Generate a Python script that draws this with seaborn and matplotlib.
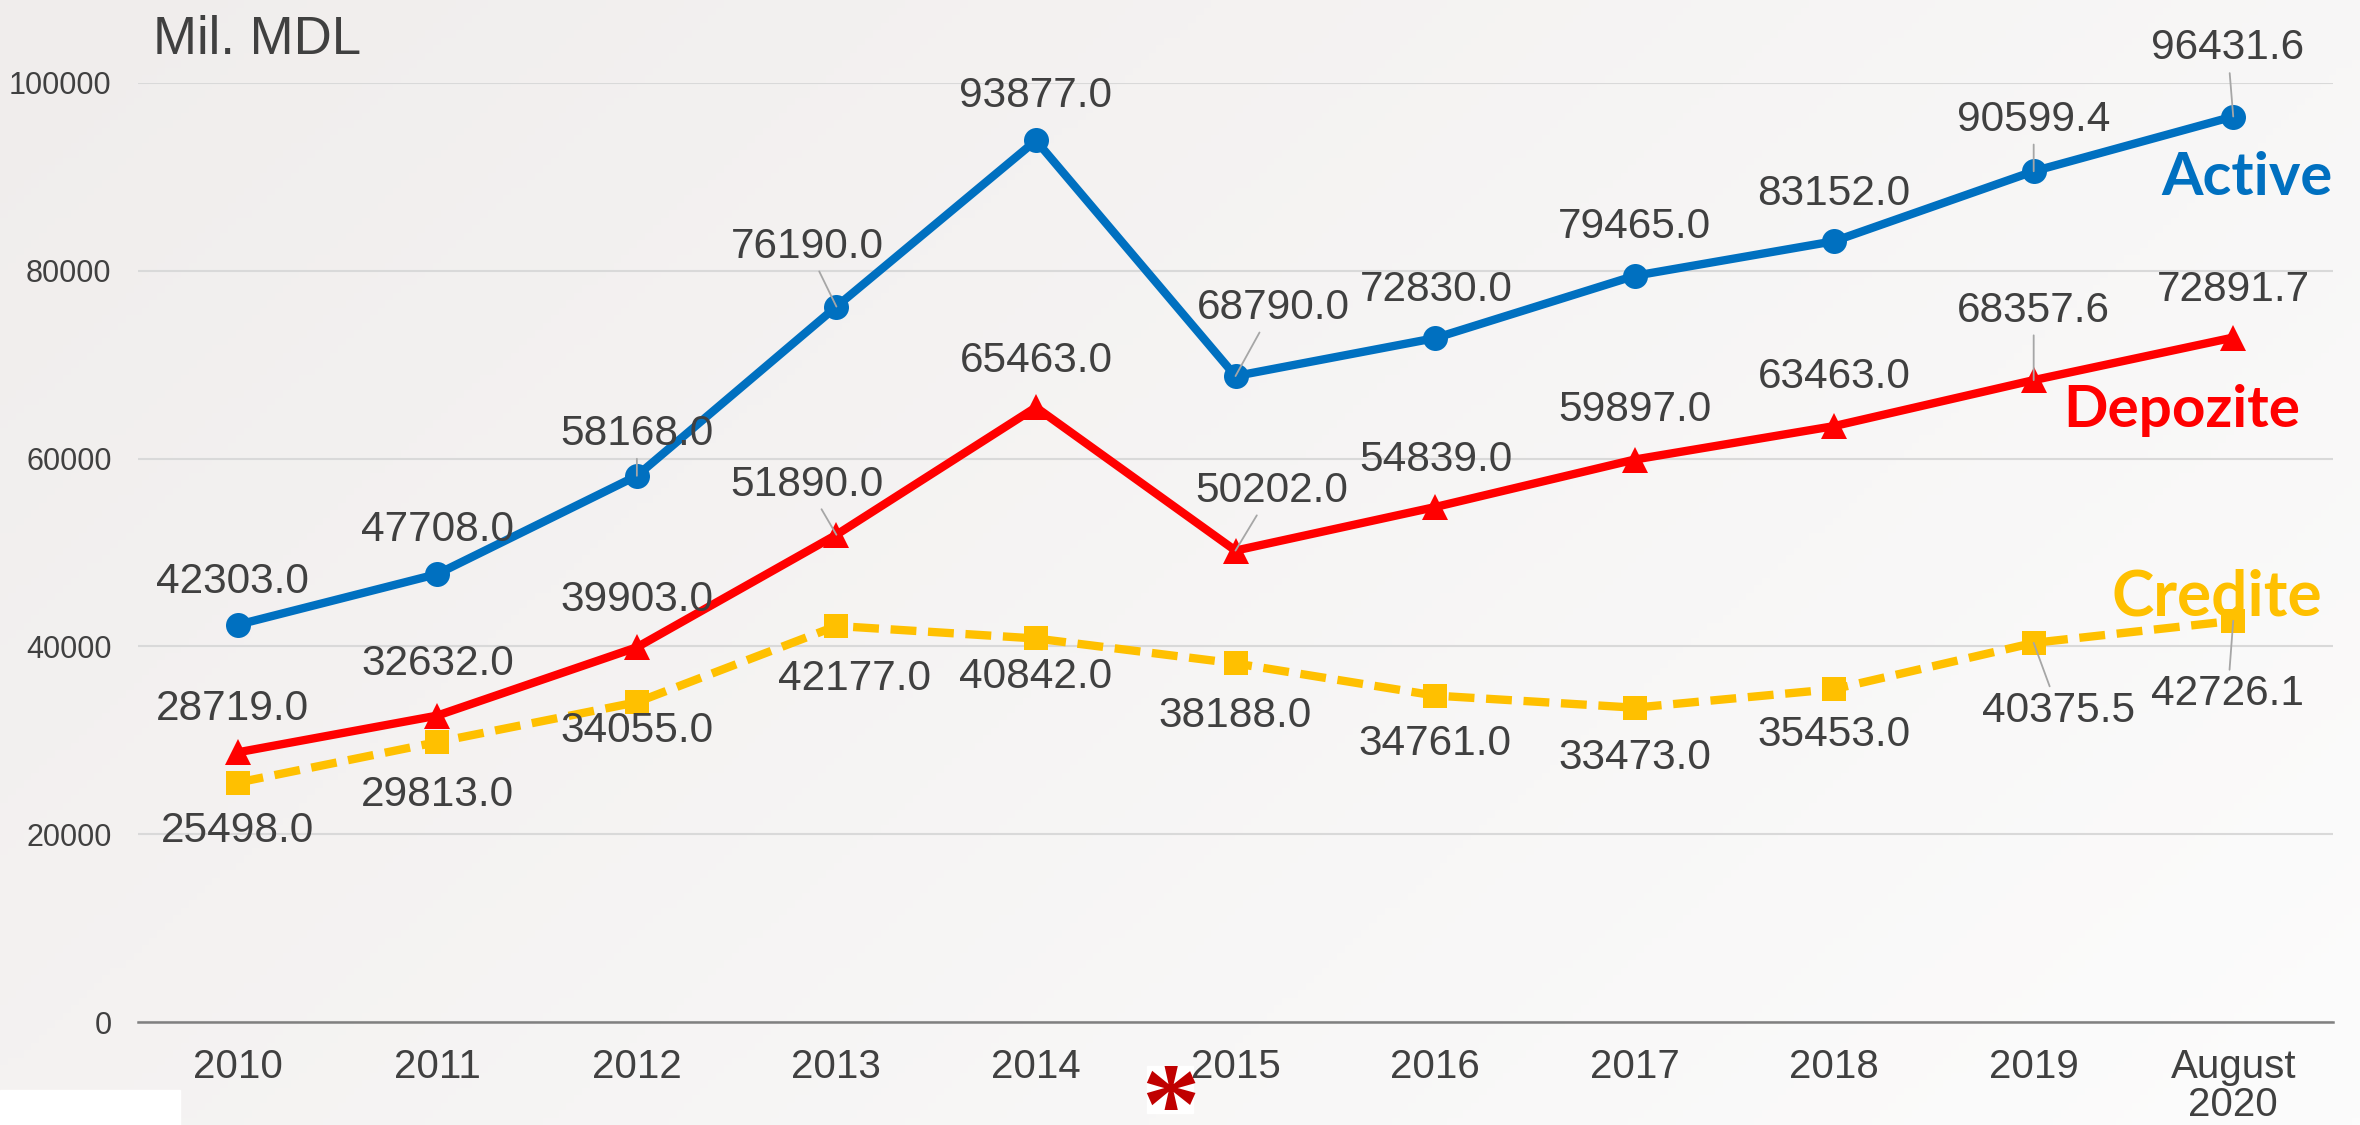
import numpy as np
import pandas as pd
import matplotlib
matplotlib.use("Agg")
import matplotlib.pyplot as plt
import seaborn as sns

# chart data (Mil. MDL)
years = ["2010", "2011", "2012", "2013", "2014", "2015", "2016", "2017", "2018", "2019", "August\n2020"]
active = [42303.0, 47708.0, 58168.0, 76190.0, 93877.0, 68790.0, 72830.0, 79465.0, 83152.0, 90599.4, 96431.6]
depozite = [28719.0, 32632.0, 39903.0, 51890.0, 65463.0, 50202.0, 54839.0, 59897.0, 63463.0, 68357.6, 72891.7]
credite = [25498.0, 29813.0, 34055.0, 42177.0, 40842.0, 38188.0, 34761.0, 33473.0, 35453.0, 40375.5, 42726.1]

# label offsets in points (dx, dy) and which labels get a leader line
off_active = [(-4, 31), (0, 32), (0, 30), (-21, 43), (0, 32), (27, 49), (1, 35), (0, 35), (0, 34), (0, 37), (-4, 49)]
off_depo = [(-4, 31), (0, 37), (0, 34), (-21, 36), (0, 33), (26, 43), (1, 34), (0, 36), (0, 35), (0, 50), (0, 34)]
off_cred = [(0, -35), (0, -38), (0, -21), (13, -38), (0, -28), (0, -38), (0, -35), (0, -36), (0, -33), (18, -49), (-4, -53)]
lead_active = [2, 3, 5, 9, 10]
lead_depo = [3, 5, 9]
lead_cred = [9, 10]

BLUE, RED, YELLOW = "#0070C0", "#FF0000", "#FFC000"
GRAY_TXT = "#404040"

sns.set_theme(style="white")
plt.rcParams["font.family"] = ["Liberation Sans", "DejaVu Sans"]

df = pd.DataFrame({"pos": np.arange(len(years)), "Active": active,
                   "Depozite": depozite, "Credite": credite})

fig = plt.figure(figsize=(23.6, 11.25), dpi=100)

# soft gradient background
bg = fig.add_axes([0, 0, 1, 1], zorder=-10)
gx = np.linspace(0, 1, 300)
gy = np.linspace(0, 1, 150)
GX, GY = np.meshgrid(gx, gy)
t = np.clip(0.65 * GX + 0.35 * (1 - GY), 0, 1)
c0 = np.array([240, 237, 236]) / 255
c1 = np.array([252, 252, 252]) / 255
img = c0[None, None, :] * (1 - t[..., None]) + c1[None, None, :] * t[..., None]
bg.imshow(img, aspect="auto", extent=[0, 1, 0, 1], origin="lower")
bg.set_xlim(0, 1)
bg.set_ylim(0, 1)
bg.axis("off")
bg.add_patch(plt.Rectangle((0, 0), 180 / 2360, 35 / 1125, color="white", transform=bg.transAxes))
# white box behind the footnote asterisk
bg.add_patch(plt.Rectangle((1147 / 2360, 1 - 1113 / 1125), 46 / 2360, 47 / 1125,
                           color="white", transform=bg.transAxes))

ax = fig.add_axes([138 / 2360, 1 - 1022 / 1125, 2195 / 2360, 939 / 1125])
ax.set_facecolor("none")

sns.lineplot(data=df, x="pos", y="Active", ax=ax, color=BLUE, lw=6,
             marker="o", markersize=18, markeredgewidth=0, zorder=3)
sns.lineplot(data=df, x="pos", y="Depozite", ax=ax, color=RED, lw=6,
             marker="^", markersize=19, markeredgewidth=0, zorder=3)
sns.lineplot(data=df, x="pos", y="Credite", ax=ax, color=YELLOW, lw=6,
             marker="s", markersize=17, markeredgewidth=0, zorder=3, dashes=(3.1, 1.4))

ax.set_xlim(-0.5, len(years) - 0.5)
ax.set_ylim(0, 100000)
ax.set_yticks(range(0, 100001, 20000))
ax.set_yticklabels([str(v) for v in range(0, 100001, 20000)], fontsize=22, color=GRAY_TXT)
ax.tick_params(axis="y", length=0, pad=19)
ax.grid(axis="y", color="#d9d9d9", lw=1.5)
ax.set_axisbelow(True)

ax.set_xticks(np.arange(len(years)))
ax.set_xticklabels(years, fontsize=29, color=GRAY_TXT, linespacing=1.0)
ax.tick_params(axis="x", length=0, pad=19)
ax.set_xticks(np.arange(-0.5, len(years)), minor=True)
ax.tick_params(axis="x", which="minor", length=10, width=1.5, color="#808080")
ax.set_xlabel("")
ax.set_ylabel("")
for s in ["top", "right", "left"]:
    ax.spines[s].set_visible(False)
ax.spines["bottom"].set_color("#808080")
ax.spines["bottom"].set_linewidth(1.8)


def label_series(values, offsets, leaders):
    for i, v in enumerate(values):
        dx, dy = offsets[i]
        ap = None
        if i in leaders:
            ap = dict(arrowstyle="-", color="#a6a6a6", lw=1.3, shrinkA=1, shrinkB=0)
        ax.annotate(f"{v:.1f}", (i, v), xytext=(dx, dy), textcoords="offset points",
                    ha="center", va="center", fontsize=30.5, color=GRAY_TXT,
                    arrowprops=ap, annotation_clip=False, zorder=5)


label_series(active, off_active, lead_active)
label_series(depozite, off_depo, lead_depo)
label_series(credite, off_cred, lead_cred)

# series names
ax.text(1.0, 0.8807, "Active", transform=ax.transAxes, ha="right", va="baseline",
        fontsize=43, fontweight="bold", color=BLUE, family=["Lato", "DejaVu Sans"])
ax.text(0.985, 0.6337, "Depozite", transform=ax.transAxes, ha="right", va="baseline",
        fontsize=42, fontweight="bold", color=RED, family=["Lato", "DejaVu Sans"])
ax.text(0.995, 0.4334, "Credite", transform=ax.transAxes, ha="right", va="baseline",
        fontsize=46, fontweight="bold", color=YELLOW, family=["Lato", "DejaVu Sans"], zorder=2)

fig.text(153 / 2360, 1 - 54 / 1125, "Mil. MDL", fontsize=38, color=GRAY_TXT, va="baseline")

# footnote asterisk
fig.text(1170 / 2360, 1 - 1115 / 1125, "*", fontsize=84, fontweight="bold", color="#C00000",
         ha="center", va="center", family=["Liberation Serif", "DejaVu Sans"])

fig.savefig("out.png", dpi=100)
